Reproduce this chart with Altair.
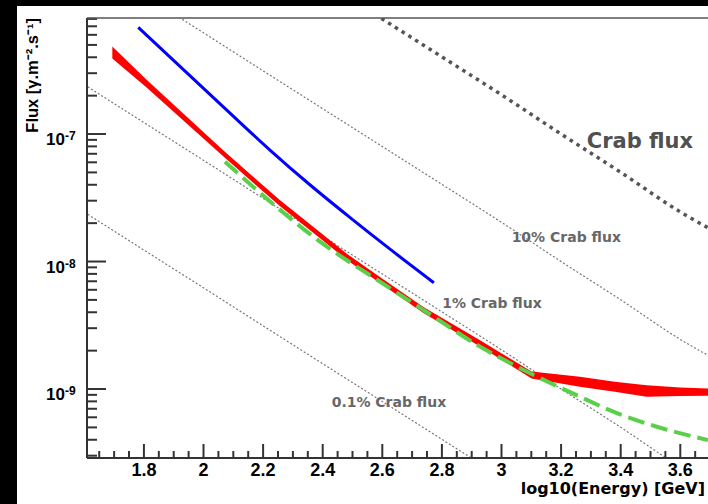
import altair as alt
import pandas as pd

# Energy axis: log10(E / GeV); fluxes are integral fluxes in gamma m^-2 s^-1
crab_x = [1.60, 1.80, 2.00, 2.20, 2.40, 2.60, 2.80, 3.00, 3.20, 3.40, 3.60, 3.70]
crab_flux = [2.44e-5, 1.23e-5, 6.22e-6, 3.13e-6, 1.58e-6, 7.98e-7,
             4.03e-7, 2.03e-7, 1.00e-7, 5.01e-8, 2.45e-8, 1.80e-8]
crab_levels = ["Crab", "10%", "1%", "0.1%"]
crab_fractions = [1.0, 0.1, 0.01, 0.001]

# sensitivity band (upper / lower edge)
red_x = [1.694, 1.809, 2.066, 2.257, 2.368, 2.481, 2.592, 2.738,
         2.928, 3.101, 3.263, 3.38, 3.487, 3.60, 3.693]
red_hi = [4.85e-7, 2.67e-7, 7.45e-8, 3.02e-8, 1.87e-8, 1.15e-8, 7.55e-9,
          4.40e-9, 2.41e-9, 1.37e-9, 1.25e-9, 1.14e-9, 1.07e-9, 1.03e-9, 1.01e-9]
red_lo = [3.91e-7, 2.32e-7, 6.68e-8, 2.71e-8, 1.68e-8, 1.03e-8, 6.78e-9,
          3.95e-9, 2.16e-9, 1.21e-9, 1.04e-9, 9.53e-10, 8.71e-10, 8.81e-10, 8.85e-10]

blue_x = [1.781, 2.078, 2.223, 2.357, 2.492, 2.626, 2.773]
blue_flux = [6.87e-7, 1.54e-7, 7.49e-8, 4.00e-8, 2.21e-8, 1.25e-8, 6.82e-9]

green_x = [2.072, 2.257, 2.391, 2.592, 2.738, 2.928, 3.096, 3.263, 3.375, 3.521, 3.693]
green_flux = [6.07e-8, 2.54e-8, 1.43e-8, 6.95e-9, 4.17e-9, 2.15e-9,
              1.33e-9, 8.71e-10, 6.64e-10, 5.06e-10, 3.98e-10]

x_major = [1.8, 2.0, 2.2, 2.4, 2.6, 2.8, 3.0, 3.2, 3.4, 3.6]
x_labels = ["1.8", "2", "2.2", "2.4", "2.6", "2.8", "3", "3.2", "3.4", "3.6"]
y_major = [1e-9, 1e-8, 1e-7]
y_exponents = ["-9", "-8", "-7"]

label_text = ["Crab flux", "10% Crab flux", "1% Crab flux", "0.1% Crab flux"]
label_x = [3.286, 3.034, 2.801, 2.430]
label_y = [7.76e-8, 1.43e-8, 4.30e-9, 7.26e-10]

X_LO, X_HI = 1.609, 3.693
Y_LO, Y_HI = 2.877e-10, 8.13e-7
W, H = 621, 440

xs = alt.Scale(domain=[X_LO, X_HI], nice=False, zero=False)
ys = alt.Scale(type="log", domain=[Y_LO, Y_HI], nice=False)


def xq(field):
    return alt.X(field, type="quantitative", scale=xs, axis=None)


def yq(field):
    return alt.Y(field, type="quantitative", scale=ys, axis=None)


one = alt.Data(values=[{"k": 0}])

crab_df = pd.DataFrame(
    [{"x": x, "flux": f * frac, "level": lvl}
     for lvl, frac in zip(crab_levels, crab_fractions)
     for x, f in zip(crab_x, crab_flux)]
)
red_df = pd.DataFrame({"x": red_x, "hi": red_hi, "lo": red_lo})
blue_df = pd.DataFrame({"x": blue_x, "flux": blue_flux})
green_df = pd.DataFrame({"x": green_x, "flux": green_flux})
lab_df = pd.DataFrame({"text": label_text, "x": label_x, "y": label_y,
                       "size": [21, 14, 14, 14]})

# minor ticks
x_minor = [round(1.65 + 0.05 * i, 2) for i in range(41)]
x_minor = [v for v in x_minor if all(abs(v - m) > 1e-6 for m in x_major)]
y_minor = [m * d for d in [1e-10, 1e-9, 1e-8, 1e-7] for m in range(2, 10)]
y_minor = [v for v in y_minor if Y_LO <= v <= Y_HI]

paper = alt.Chart(one).mark_rect(color="white").encode(
    x=alt.value(-70), x2=alt.value(W + 5), y=alt.value(-12), y2=alt.value(H + 46))

crab_line = alt.Chart(crab_df).transform_filter("datum.level == 'Crab'").mark_line(
    clip=True, color="#555555", strokeWidth=3.5, strokeDash=[3.5, 4.5],
    interpolate="monotone"
).encode(x=xq("x"), y=yq("flux"))

frac_lines = alt.Chart(crab_df).transform_filter("datum.level != 'Crab'").mark_line(
    clip=True, color="#777777", strokeWidth=1.2, strokeDash=[2, 2],
    interpolate="monotone"
).encode(x=xq("x"), y=yq("flux"), detail="level:N")

band = alt.Chart(red_df).mark_area(color="#ff0000", clip=True).encode(
    x=xq("x"), y=yq("lo"), y2="hi")

blue = alt.Chart(blue_df).mark_line(
    color="#0000ff", strokeWidth=3, clip=True, interpolate="monotone"
).encode(x=xq("x"), y=yq("flux"))

green = alt.Chart(green_df).mark_line(
    color="#5ad04a", strokeWidth=4, strokeDash=[17, 7], clip=True,
    interpolate="monotone"
).encode(x=xq("x"), y=yq("flux"))

labels = alt.Chart(lab_df).mark_text(
    font="DejaVu Sans", fontWeight="bold", align="left", baseline="alphabetic"
).encode(
    x=xq("x"), y=yq("y"), text="text:N",
    size=alt.Size("size:Q", scale=None, legend=None),
    color=alt.condition("datum.size > 16", alt.value("#505050"), alt.value("#676767")),
)

ax_col = "#333333"
left_axis = alt.Chart(one).mark_rule(color=ax_col, strokeWidth=2).encode(
    x=alt.value(0), y=alt.value(0), y2=alt.value(H))
bottom_axis = alt.Chart(one).mark_rule(color=ax_col, strokeWidth=2).encode(
    x=alt.value(0), x2=alt.value(W), y=alt.value(H))
top_frame = alt.Chart(one).mark_rule(color="#555555", strokeWidth=1.5).encode(
    x=alt.value(0), x2=alt.value(W), y=alt.value(0))

xt_major = alt.Chart(pd.DataFrame({"v": x_major, "lab": x_labels}))
xt_minor = alt.Chart(pd.DataFrame({"v": x_minor}))
yt_major = alt.Chart(pd.DataFrame({"v": y_major, "e": y_exponents}))
yt_minor = alt.Chart(pd.DataFrame({"v": y_minor}))

x_ticks_major = xt_major.mark_rule(color=ax_col, strokeWidth=2).encode(
    x=xq("v"), y=alt.value(H), y2=alt.value(H - 14))
x_ticks_minor = xt_minor.mark_rule(color=ax_col, strokeWidth=2).encode(
    x=xq("v"), y=alt.value(H), y2=alt.value(H - 7))
y_ticks_major = yt_major.mark_rule(color=ax_col, strokeWidth=2).encode(
    y=yq("v"), x=alt.value(0), x2=alt.value(19))
y_ticks_minor = yt_minor.mark_rule(color=ax_col, strokeWidth=2).encode(
    y=yq("v"), x=alt.value(0), x2=alt.value(10))

x_tick_labels = xt_major.mark_text(
    font="Liberation Sans", fontWeight="bold", fontSize=18, color="black",
    align="center", baseline="alphabetic"
).encode(x=xq("v"), y=alt.value(H + 18), text="lab:N")

y_base = yt_major.mark_text(
    font="Liberation Sans", fontWeight="bold", fontSize=17, color="black",
    align="right", baseline="alphabetic", dy=11
).encode(y=yq("v"), x=alt.value(-22), text=alt.value("10"))
y_exp = yt_major.mark_text(
    font="Liberation Sans", fontWeight="bold", fontSize=12, color="black",
    align="left", baseline="alphabetic", dy=6
).encode(y=yq("v"), x=alt.value(-22), text="e:N")

x_title = alt.Chart(one).mark_text(
    font="DejaVu Sans", fontWeight="bold", fontSize=16, color="black",
    align="right", baseline="alphabetic"
).encode(x=alt.value(W - 3), y=alt.value(H + 36), text=alt.value("log10(Energy) [GeV]"))

y_title = alt.Chart(one).mark_text(
    font="Liberation Sans", fontWeight="bold", fontSize=16.5, color="black",
    align="right", baseline="middle", angle=270
).encode(x=alt.value(-54), y=alt.value(0), text=alt.value("Flux [γ.m⁻².s⁻¹]"))

chart = alt.layer(
    paper, frac_lines, crab_line, band, blue, green, labels,
    x_ticks_minor, x_ticks_major, y_ticks_minor, y_ticks_major,
    left_axis, bottom_axis, top_frame,
    x_tick_labels, y_base, y_exp, x_title, y_title,
).properties(
    width=W, height=H, background="black",
    padding={"left": 87, "top": 18, "right": 0, "bottom": 46},
    autosize=alt.AutoSizeParams(type="none"),
).configure_view(stroke=None)

chart.save("out.html", embed_options={"renderer": "svg", "actions": False})
